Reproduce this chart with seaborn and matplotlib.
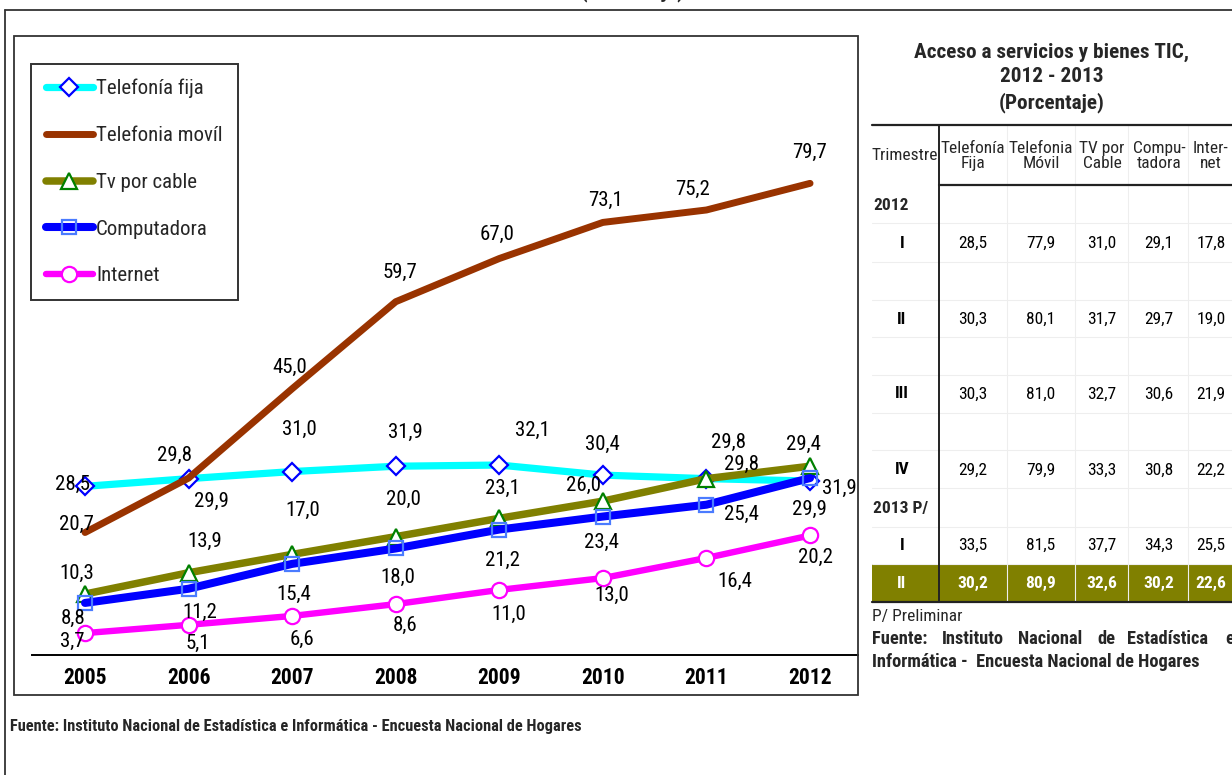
# Acceso a servicios TIC - grafico de lineas + tabla trimestral
import numpy as np
import pandas as pd
import seaborn as sns
import matplotlib.pyplot as plt
from matplotlib import font_manager
from matplotlib.patches import Rectangle
from matplotlib.lines import Line2D

# ----------------------------
# Datos
# ----------------------------
years = [2005, 2006, 2007, 2008, 2009, 2010, 2011, 2012]
telefonia_fija = [28.5, 29.8, 31.0, 31.9, 32.1, 30.4, 29.8, 29.4]
telefonia_movil = [20.7, 29.9, 45.0, 59.7, 67.0, 73.1, 75.2, 79.7]
tv_cable = [10.3, 13.9, 17.0, 20.0, 23.1, 26.0, 29.8, 31.9]
computadora = [8.8, 11.2, 15.4, 18.0, 21.2, 23.4, 25.4, 29.9]
internet = [3.7, 5.1, 6.6, 8.6, 11.0, 13.0, 16.4, 20.2]
series_names = ["Telefonía fija", "Telefonia movíl", "Tv por cable", "Computadora", "Internet"]

# tabla trimestral
tabla_header = ["Telefonía\nFija", "Telefonia\nMóvil", "TV por\nCable", "Compu-\ntadora", "Inter-\nnet"]
tabla_trimestre = ["I", "II", "III", "IV", "I", "II"]
tabla_fija = [28.5, 30.3, 30.3, 29.2, 33.5, 30.2]
tabla_movil = [77.9, 80.1, 81.0, 79.9, 81.5, 80.9]
tabla_cable = [31.0, 31.7, 32.7, 33.3, 37.7, 32.6]
tabla_comp = [29.1, 29.7, 30.6, 30.8, 34.3, 30.2]
tabla_internet = [17.8, 19.0, 21.9, 22.2, 25.5, 22.6]

# ----------------------------
# Estilo / fuente angosta tipo Arial Narrow
# ----------------------------
sns.set_theme(style="white")


def weight_num(w):
    if isinstance(w, (int, float)):
        return w
    return font_manager.weight_dict.get(w, 400)


fam_weights = {}
for f in font_manager.fontManager.ttflist:
    fam_weights.setdefault(f.name, set()).add(weight_num(f.weight))

base_font = "Liberation Sans"
for cand in ["Liberation Sans Narrow", "Roboto Condensed", "PT Sans Narrow", "Archivo Narrow",
             "Sofia Sans Semi Condensed"]:
    ws = fam_weights.get(cand, set())
    if any(w <= 450 for w in ws) and any(w >= 650 for w in ws):
        base_font = cand
        break
plt.rcParams["font.family"] = [base_font, "DejaVu Sans"]

W, H = 1232, 775
fig = plt.figure(figsize=(W / 100, H / 100), dpi=100)


def fx(x):
    return x / W


def fy(y):
    return 1 - y / H


def fmt(v):
    return f"{v:.1f}".replace(".", ",")


ax = fig.add_axes([fx(32), fy(655), fx(858) - fx(32), fy(36) - fy(655)])

styles = [
    dict(color="#00FFFF", lw=5.2, marker="D", ms=9, mfc="white", mec="#0000FF", mew=1.6),
    dict(color="#993300", lw=5, marker=None),
    dict(color="#808000", lw=5.4, marker="^", ms=11, mfc="white", mec="#008000", mew=1.6),
    dict(color="#0000FF", lw=5.8, marker="s", ms=10, mfc="none", mec="#4A7BFF", mew=1.6),
    dict(color="#FF00FF", lw=4.6, marker="o", ms=11, mfc="white", mec="#FF00FF", mew=1.6),
]
all_series = [telefonia_fija, telefonia_movil, tv_cable, computadora, internet]

for name, vals, st in zip(series_names, all_series, styles):
    df = pd.DataFrame({"year": years, "value": vals})
    kw = dict(color=st["color"], linewidth=st["lw"], solid_capstyle="round", solid_joinstyle="round")
    if st["marker"]:
        kw.update(marker=st["marker"], markersize=st["ms"], markerfacecolor=st["mfc"],
                  markeredgecolor=st["mec"], markeredgewidth=st["mew"])
    sns.lineplot(data=df, x="year", y="value", ax=ax, label=name, **kw)

# desplazamiento de etiquetas (pixeles, y positivo hacia abajo)
label_offsets = [
    [(-13, -2), (-14, -23), (7, -42), (10, -34), (33, -35), (-1, -31), (22, -36), (-7, -37)],
    [(-9, -8), (23, 23), (-2, -21), (4, -29), (-2, -24), (3, -22), (-14, -21), (-1, -31)],
    [(-8, -21), (16, -31), (11, -44), (8, -37), (3, -30), (-19, -16), (35, -14), (29, 22)],
    [(-12, 15), (11, 24), (2, 31), (2, 29), (3, 31), (-1, 26), (35, 10), (-1, 31)],
    [(-13, 8), (9, 19), (10, 23), (9, 21), (9, 24), (9, 17), (28, 23), (5, 22)],
]
for vals, offs in zip(all_series, label_offsets):
    for x, v, (dx, dy) in zip(years, vals, offs):
        ax.annotate(fmt(v), (x, v), xytext=(dx, -dy), textcoords="offset pixels",
                    ha="center", va="center", fontsize=15, color="black")

ax.set_xlim(2004.488, 2012.463)
ax.set_ylim(0, 104.6)
ax.set_xticks(years)
ax.set_xticklabels([str(y) for y in years], fontsize=15.5, fontweight="bold", color="black")
ax.set_yticks([])
ax.set_xlabel("")
ax.set_ylabel("")
ax.tick_params(axis="x", length=0, pad=9)
for s in ["left", "top", "right"]:
    ax.spines[s].set_visible(False)
ax.spines["bottom"].set_color("black")
ax.spines["bottom"].set_linewidth(1.4)
ax.patch.set_alpha(0)

leg = ax.legend(loc="upper left", bbox_to_anchor=(fx(31), fy(64)), bbox_transform=fig.transFigure,
                fontsize=15, frameon=True, fancybox=False, handlelength=2.25, handletextpad=0.15,
                labelspacing=1.33, borderpad=0.72, borderaxespad=0, numpoints=1)
leg.get_frame().set_edgecolor("black")
leg.get_frame().set_linewidth(1.4)

# marcos
fig.add_artist(Rectangle((fx(14), fy(695)), fx(858) - fx(14), fy(36) - fy(695),
                         transform=fig.transFigure, fill=False, edgecolor="#333333", lw=1.3))
fig.add_artist(Line2D([fx(5), fx(5)], [fy(10), 0], transform=fig.transFigure, color="#333333", lw=1.3))
fig.add_artist(Line2D([fx(5), 1], [fy(10), fy(10)], transform=fig.transFigure, color="#333333", lw=1.3))

# titulo cortado arriba
fig.text(fx(633), fy(-3), "(Porcentaje)", ha="center", va="baseline", fontsize=15, fontweight="bold")

# fuente inferior
fig.text(fx(10), fy(727), "Fuente: Instituto Nacional de Estadística e Informática - Encuesta Nacional de Hogares",
         ha="left", va="center", fontsize=11.8, fontweight="bold")

# ----------------------------
# Tabla
# ----------------------------
cx = 1052
for txt, y in [("Acceso a servicios y bienes TIC,", 52), ("2012 - 2013", 76), ("(Porcentaje)", 103)]:
    fig.text(fx(cx), fy(y), txt, ha="center", va="center", fontsize=15.3, fontweight="bold")

# lineas suaves de celdas
row_edges = [185, 223, 262, 300, 337, 375, 413, 450, 488, 527, 564]
for y in row_edges[1:]:
    fig.add_artist(Line2D([fx(872), 1], [fy(y), fy(y)], transform=fig.transFigure, color="#eeeeee", lw=0.8))
for x in [1007, 1075, 1128, 1188]:
    fig.add_artist(Line2D([fx(x), fx(x)], [fy(125), fy(602)], transform=fig.transFigure, color="#eeeeee", lw=0.8))

fig.add_artist(Rectangle((fx(872), fy(602)), 1 - fx(872), fy(564) - fy(602),
                         transform=fig.transFigure, facecolor="#808000", edgecolor="none"))
fig.add_artist(Line2D([fx(872), 1], [fy(125), fy(125)], transform=fig.transFigure, color="#222222", lw=1.6))
fig.add_artist(Line2D([fx(939), 1], [fy(185), fy(185)], transform=fig.transFigure, color="#222222", lw=1.6))
fig.add_artist(Line2D([fx(872), 1], [fy(602), fy(602)], transform=fig.transFigure, color="#222222", lw=1.6))
fig.add_artist(Line2D([fx(939), fx(939)], [fy(125), fy(602)], transform=fig.transFigure, color="#222222", lw=1.4))

col_x = [973, 1041, 1102, 1159, 1211]
fig.text(fx(905), fy(156), "Trimestre", ha="center", va="center", fontsize=12.5)
for x, h in zip(col_x, tabla_header):
    fig.text(fx(x), fy(156), h, ha="center", va="center", fontsize=12.5, linespacing=1.05)

fig.text(fx(873), fy(205), "2012", ha="left", va="center", fontsize=12.5, fontweight="bold")
fig.text(fx(901), fy(508), "2013 P/", ha="center", va="center", fontsize=12.5, fontweight="bold")

row_y = [243, 319, 394, 470, 545, 583]
tabla_cols = [tabla_fija, tabla_movil, tabla_cable, tabla_comp, tabla_internet]
for i, (lab, y) in enumerate(zip(tabla_trimestre, row_y)):
    last = i == len(row_y) - 1
    color = "white" if last else "black"
    weight = "bold" if last else "normal"
    fig.text(fx(902), fy(y), lab, ha="center", va="center", fontsize=12.5, fontweight="bold", color=color)
    for x, col in zip(col_x, tabla_cols):
        fig.text(fx(x), fy(y), fmt(col[i]), ha="center", va="center", fontsize=12.5,
                 fontweight=weight, color=color)

fig.text(fx(872), fy(617), "P/ Preliminar", ha="left", va="center", fontsize=12.5)
for word, x in [("Fuente:", 872), ("Instituto", 942), ("Nacional", 1018), ("de", 1097),
                ("Estadística", 1127), ("e", 1225)]:
    fig.text(fx(x), fy(639), word, ha="left", va="center", fontsize=13.2, fontweight="bold")
fig.text(fx(872), fy(662), "Informática -  Encuesta Nacional de Hogares", ha="left", va="center",
         fontsize=13.2, fontweight="bold")

fig.savefig("out.png", dpi=100)
